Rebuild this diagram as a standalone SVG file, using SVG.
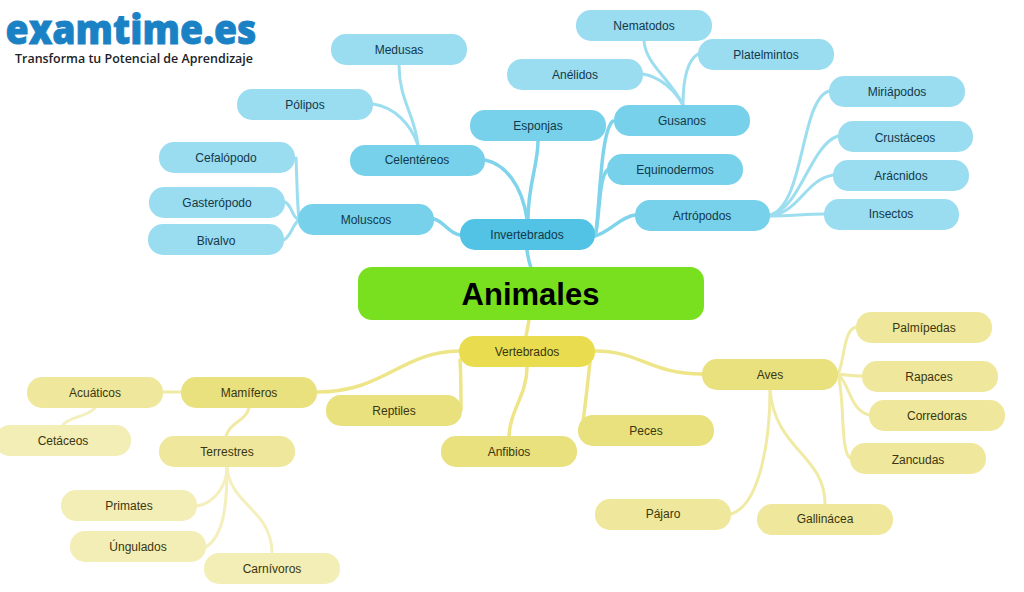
<svg xmlns="http://www.w3.org/2000/svg" width="1024" height="592" viewBox="0 0 1024 592">
<style>
text{font-family:"Liberation Sans",Arial,sans-serif;font-size:12px;text-anchor:middle}
.b text{fill:#12384a}.y text{fill:#3a3610}
.b1 rect{fill:#52c3e4}.b2 rect{fill:#77d1ea}.b3 rect{fill:#9adcf0}
.y1 rect{fill:#e9dc4e}.y2 rect{fill:#e9e07e}.y3 rect{fill:#efe89c}.y4 rect{fill:#f3edb6}
.n{fill:none;stroke-linecap:round}
.cb1{stroke:#7fd4eb;stroke-width:3.5}.cb2{stroke:#9cdef0;stroke-width:3}
.cy1{stroke:#ede587;stroke-width:3.5}.cy2{stroke:#f0eaa4;stroke-width:3}.cy3{stroke:#f4efbd;stroke-width:3}
</style>
<rect width="1024" height="592" fill="#fff"/>
<g id="logo">
<text x="131" y="44" textLength="251" lengthAdjust="spacingAndGlyphs" stroke="#1a82c4" stroke-width="0.8" style="font-family:'Open Sans',sans-serif;font-size:41px;font-weight:800;fill:#1a82c4">examtime.es</text>
<text x="134" y="63" textLength="238" lengthAdjust="spacingAndGlyphs" style="font-family:'Open Sans',sans-serif;font-size:13px;font-weight:600;fill:#1c2226">Transforma tu Potencial de Aprendizaje</text>
</g>
<g id="connectors" class="n">
<path class="cb1" d="M527 250C528 258 529 262 531 268"/>
<path class="cb1" d="M485 160C505 164 522 185 527 219"/>
<path class="cb1" d="M538 141C538 165 528 185 528 219"/>
<path class="cb1" d="M434 219C445 222 448 233 460 235"/>
<path class="cb1" d="M596 232C600 200 601 130 613 121"/>
<path class="cb1" d="M596 232C600 210 599 180 607 170"/>
<path class="cb1" d="M595 236C610 232 620 217 635 215"/>
<path class="cb2" d="M296 158C297 180 297 200 299 220"/>
<path class="cb2" d="M285 202C292 205 292 218 299 220"/>
<path class="cb2" d="M284 240C292 235 292 225 299 220"/>
<path class="cb2" d="M399 65C399 100 415 115 418 145"/>
<path class="cb2" d="M373 104C395 107 411 125 418 145"/>
<path class="cb2" d="M644 41C646 65 670 78 683 105"/>
<path class="cb2" d="M643 74C660 77 675 90 683 105"/>
<path class="cb2" d="M698 54C685 62 683 85 683 105"/>
<path class="cb2" d="M770 215C805 205 800 100 829 91"/>
<path class="cb2" d="M770 215C800 210 810 145 838 136"/>
<path class="cb2" d="M770 216C800 212 805 180 833 175"/>
<path class="cb2" d="M770 216C790 216 805 214 824 214"/>
<path class="cy1" d="M529 320C528 326 527 331 526 336"/>
<path class="cy1" d="M459 351C400 352 385 392 317 392"/>
<path class="cy1" d="M460 360C461 375 461 395 461 410"/>
<path class="cy1" d="M527 367C527 395 510 410 509 436"/>
<path class="cy1" d="M590 362C588 380 586 400 582 430"/>
<path class="cy1" d="M595 351C640 351 650 374 702 374"/>
<path class="cy2" d="M163 392L181 392"/>
<path class="cy2" d="M249 408C245 422 230 422 226 436"/>
<path class="cy2" d="M838 374C845 360 843 330 856 327"/>
<path class="cy2" d="M838 374C845 375 852 376 862 376"/>
<path class="cy2" d="M838 374C850 385 850 410 869 415"/>
<path class="cy2" d="M838 374C845 400 840 450 850 458"/>
<path class="cy2" d="M770 390C770 440 760 505 731 514"/>
<path class="cy2" d="M770 390C775 450 825 455 825 504"/>
<path class="cy3" d="M95 408C85 418 70 416 63 425"/>
<path class="cy3" d="M227 467C227 485 215 503 197 506"/>
<path class="cy3" d="M227 467C227 500 225 535 206 547"/>
<path class="cy3" d="M227 467C230 505 272 510 272 553"/>
</g>
<g id="animales"><rect x="358" y="267" width="346" height="53" rx="14" fill="#78e01e"/><text x="530.500" y="305" style="font-size:31px;font-weight:700;fill:#000">Animales</text></g>
<g class="b">
<g id="invertebrados" class="b1"><rect x="460" y="219" width="135" height="31" rx="15"/><text x="527" y="239">Invertebrados</text></g>
<g id="esponjas" class="b2"><rect x="470" y="110" width="136" height="31" rx="15"/><text x="538" y="130">Esponjas</text></g>
<g id="celentereos" class="b2"><rect x="350" y="145" width="135" height="31" rx="15"/><text x="417" y="164">Celentéreos</text></g>
<g id="moluscos" class="b2"><rect x="298" y="204" width="136" height="31" rx="15"/><text x="366" y="224">Moluscos</text></g>
<g id="gusanos" class="b2"><rect x="614" y="105" width="136" height="31" rx="15"/><text x="682" y="125">Gusanos</text></g>
<g id="equinodermos" class="b2"><rect x="607" y="154" width="136" height="31" rx="15"/><text x="675" y="174">Equinodermos</text></g>
<g id="artropodos" class="b2"><rect x="635" y="200" width="135" height="31" rx="15"/><text x="702" y="220">Artrópodos</text></g>
<g id="medusas" class="b3"><rect x="331" y="34" width="136" height="31" rx="15"/><text x="399" y="54">Medusas</text></g>
<g id="polipos" class="b3"><rect x="237" y="89" width="136" height="31" rx="15"/><text x="305" y="109">Pólipos</text></g>
<g id="cefalopodo" class="b3"><rect x="159" y="142" width="136" height="31" rx="15"/><text x="226" y="162">Cefalópodo</text></g>
<g id="gasteropodo" class="b3"><rect x="149" y="187" width="136" height="31" rx="15"/><text x="217" y="207">Gasterópodo</text></g>
<g id="bivalvo" class="b3"><rect x="148" y="224" width="136" height="31" rx="15"/><text x="216" y="245">Bivalvo</text></g>
<g id="nematodos" class="b3"><rect x="576" y="10" width="136" height="31" rx="15"/><text x="644" y="30">Nematodos</text></g>
<g id="platelmintos" class="b3"><rect x="698" y="39" width="136" height="31" rx="15"/><text x="766" y="59">Platelmintos</text></g>
<g id="anelidos" class="b3"><rect x="507" y="59" width="136" height="31" rx="15"/><text x="575" y="79">Anélidos</text></g>
<g id="miriapodos" class="b3"><rect x="829" y="76" width="136" height="31" rx="15"/><text x="897" y="96">Miriápodos</text></g>
<g id="crustaceos" class="b3"><rect x="838" y="121" width="135" height="31" rx="15"/><text x="905" y="142">Crustáceos</text></g>
<g id="aracnidos" class="b3"><rect x="833" y="160" width="136" height="31" rx="15"/><text x="901" y="180">Arácnidos</text></g>
<g id="insectos" class="b3"><rect x="824" y="199" width="135" height="31" rx="15"/><text x="891" y="218">Insectos</text></g>
</g>
<g class="y">
<g id="vertebrados" class="y1"><rect x="459" y="336" width="136" height="31" rx="15"/><text x="527" y="356">Vertebrados</text></g>
<g id="mamiferos" class="y2"><rect x="181" y="377" width="136" height="31" rx="15"/><text x="249" y="397">Mamíferos</text></g>
<g id="reptiles" class="y2"><rect x="326" y="395" width="136" height="31" rx="15"/><text x="394" y="415">Reptiles</text></g>
<g id="anfibios" class="y2"><rect x="441" y="436" width="136" height="31" rx="15"/><text x="509" y="456">Anfibios</text></g>
<g id="peces" class="y2"><rect x="578" y="415" width="136" height="31" rx="15"/><text x="646" y="435">Peces</text></g>
<g id="aves" class="y2"><rect x="702" y="359" width="136" height="31" rx="15"/><text x="770" y="379">Aves</text></g>
<g id="acuaticos" class="y3"><rect x="27" y="377" width="136" height="31" rx="15"/><text x="95" y="397">Acuáticos</text></g>
<g id="terrestres" class="y3"><rect x="159" y="436" width="136" height="31" rx="15"/><text x="227" y="456">Terrestres</text></g>
<g id="palmipedas" class="y3"><rect x="856" y="312" width="136" height="31" rx="15"/><text x="924" y="332">Palmípedas</text></g>
<g id="rapaces" class="y3"><rect x="862" y="361" width="136" height="31" rx="15"/><text x="929" y="381">Rapaces</text></g>
<g id="corredoras" class="y3"><rect x="869" y="400" width="136" height="31" rx="15"/><text x="937" y="420">Corredoras</text></g>
<g id="zancudas" class="y3"><rect x="850" y="443" width="136" height="31" rx="15"/><text x="918" y="464">Zancudas</text></g>
<g id="pajaro" class="y3"><rect x="595" y="499" width="136" height="31" rx="15"/><text x="663" y="518">Pájaro</text></g>
<g id="gallinacea" class="y3"><rect x="757" y="504" width="136" height="31" rx="15"/><text x="825" y="523">Gallinácea</text></g>
<g id="cetaceos" class="y4"><rect x="-5" y="425" width="136" height="31" rx="15"/><text x="63" y="445">Cetáceos</text></g>
<g id="primates" class="y4"><rect x="61" y="490" width="136" height="31" rx="15"/><text x="129" y="510">Primates</text></g>
<g id="ungulados" class="y4"><rect x="70" y="531" width="136" height="31" rx="15"/><text x="138" y="551">Úngulados</text></g>
<g id="carnivoros" class="y4"><rect x="204" y="553" width="136" height="31" rx="15"/><text x="272" y="573">Carnívoros</text></g>
</g>
</svg>
